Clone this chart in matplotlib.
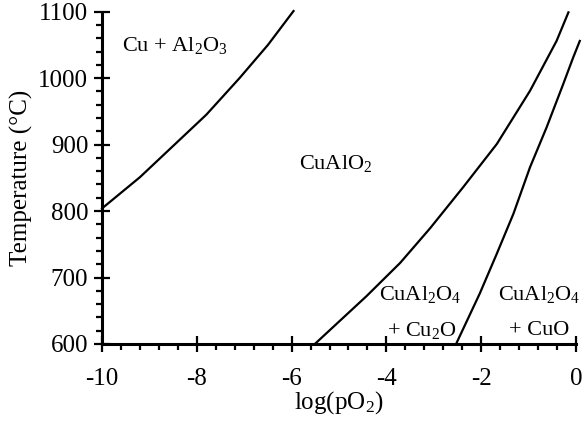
import numpy as np
import matplotlib
matplotlib.use("Agg")
import matplotlib.pyplot as plt
from matplotlib.ticker import MultipleLocator

plt.rcParams['font.family'] = ['Liberation Serif', 'DejaVu Serif']
plt.rcParams['mathtext.fontset'] = 'custom'
plt.rcParams['mathtext.rm'] = 'Liberation Serif'
plt.rcParams['axes.unicode_minus'] = False

# phase boundaries: log(pO2) vs temperature (C)
cu_x = [-10.0, -9.2, -8.5, -7.8, -7.1, -6.5, -5.96]
cu_t = [804, 851, 898, 945, 1000, 1050, 1101]

cu2o_x = [-5.51, -4.42, -3.71, -3.08, -2.38, -1.67, -0.97, -0.41, -0.16]
cu2o_t = [600, 672, 722, 774, 836, 901, 981, 1056, 1099]

cuo_x = [-2.53, -2.03, -1.67, -1.32, -0.97, -0.62, -0.27, -0.06, 0.08]
cuo_t = [600, 676, 736, 796, 866, 926, 991, 1031, 1056]

labels = [
    ('Cu + Al$\\mathregular{_2}$O$\\mathregular{_3}$', -8.46, 1049),
    ('CuAlO$\\mathregular{_2}$', -5.08, 872),
    ('CuAl$\\mathregular{_2}$O$\\mathregular{_4}$', -3.29, 675),
    ('+ Cu$\\mathregular{_2}$O', -3.25, 621),
    ('CuAl$\\mathregular{_2}$O$\\mathregular{_4}$', -0.78, 675),
    ('+ CuO', -0.78, 621),
]

fig = plt.figure(figsize=(5.84, 4.24), dpi=100)
ax = fig.add_axes([0.1747, 0.1887, 0.8116, 0.7837])

for xs, ts in [(cu_x, cu_t), (cu2o_x, cu2o_t), (cuo_x, cuo_t)]:
    ax.plot(xs, ts, color='black', lw=1.6, clip_on=False,
            solid_joinstyle='round')

for txt, x, y in labels:
    ax.text(x, y, txt, ha='center', va='center', fontsize=16)

ax.set_xlim(-10, 0)
ax.set_ylim(600, 1100)
ax.xaxis.set_major_locator(MultipleLocator(2))
ax.xaxis.set_minor_locator(MultipleLocator(0.4))
ax.yaxis.set_major_locator(MultipleLocator(100))
ax.yaxis.set_minor_locator(MultipleLocator(20))
ax.tick_params(which='major', direction='inout', length=12, width=1.6, labelsize=18)
ax.tick_params(which='minor', direction='out', length=4.5, width=1.6)
ax.tick_params(axis='x', which='major', pad=11)
ax.tick_params(axis='y', which='major', pad=4)

ax.spines['top'].set_visible(False)
ax.spines['right'].set_visible(False)
ax.spines['left'].set_linewidth(2.2)
ax.spines['bottom'].set_linewidth(2.2)

ax.set_xlabel('log(pO$\\mathregular{_2}$)', fontsize=18, labelpad=0)
ax.set_ylabel('Temperature (°C)', fontsize=18, labelpad=4)

fig.savefig('out.png', dpi=100)
